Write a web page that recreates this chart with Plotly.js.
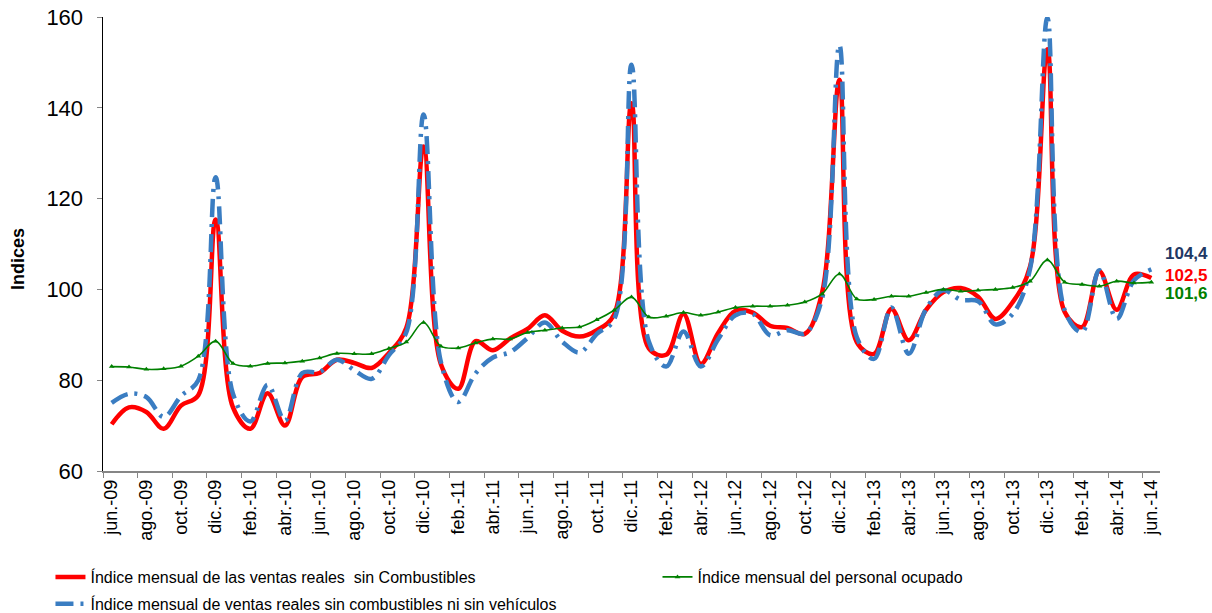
<!DOCTYPE html>
<html>
<head>
<meta charset="utf-8">
<script src="https://cdn.plot.ly/plotly-3.0.1.min.js"></script>
<style>html,body{margin:0;padding:0;background:#fff}#chart{width:1212px;height:613px}</style>
</head>
<body>
<div id="chart"></div>
<script>
const months = ["jun.-09","jul.-09","ago.-09","sep.-09","oct.-09","nov.-09","dic.-09","ene.-10","feb.-10","mar.-10","abr.-10","may.-10",
"jun.-10","jul.-10","ago.-10","sep.-10","oct.-10","nov.-10","dic.-10","ene.-11","feb.-11","mar.-11","abr.-11","may.-11",
"jun.-11","jul.-11","ago.-11","sep.-11","oct.-11","nov.-11","dic.-11","ene.-12","feb.-12","mar.-12","abr.-12","may.-12",
"jun.-12","jul.-12","ago.-12","sep.-12","oct.-12","nov.-12","dic.-12","ene.-13","feb.-13","mar.-13","abr.-13","may.-13",
"jun.-13","jul.-13","ago.-13","sep.-13","oct.-13","nov.-13","dic.-13","ene.-14","feb.-14","mar.-14","abr.-14","may.-14","jun.-14"];

const ventasSinCombustibles = [70.3,74.0,73.0,69.3,74.4,76.7,115.4,74.0,69.3,77.1,70.0,80.7,
81.6,84.5,83.8,82.7,86.0,91.5,131.5,83.5,78.1,88.6,86.6,89.2,
91.3,94.3,90.9,89.6,91.0,94.5,141.0,87.0,85.6,94.6,83.6,90.4,
95.3,94.9,92.0,91.5,90.2,99.3,146.2,88.4,85.8,95.7,88.8,95.5,
99.4,100.3,98.4,93.5,97.2,105.0,152.9,95.0,91.7,104.0,95.5,103.3,102.5];

const ventasSinCombNiVehiculos = [75.0,77.0,76.3,71.9,76.5,80.0,124.7,77.0,70.9,79.0,71.1,81.6,
81.8,84.5,82.2,80.3,85.5,90.5,138.5,84.0,75.2,81.5,85.0,86.2,
89.3,92.7,88.5,86.1,90.2,93.4,149.5,88.5,83.0,90.7,83.0,89.0,
94.3,94.6,89.9,91.0,90.3,98.0,153.8,89.5,84.7,96.0,85.8,95.7,
99.8,97.7,97.4,92.3,94.6,104.5,159.8,95.4,90.6,104.2,93.5,102.0,104.4];

const personalOcupado = [83.0,82.9,82.4,82.5,83.1,85.3,88.6,83.7,83.1,83.7,83.8,84.2,
84.9,85.9,85.8,85.8,87.0,88.4,92.7,87.5,87.1,88.2,89.1,89.1,
90.5,91.0,91.5,91.7,93.3,95.4,98.3,93.9,94.1,94.9,94.3,95.0,
96.0,96.3,96.3,96.5,97.2,99.0,103.4,97.9,97.8,98.5,98.5,99.3,
100.0,99.6,99.8,100.0,100.4,101.8,106.5,101.6,101.1,100.7,101.8,101.4,101.6];

const names = ["Índice mensual de las ventas reales  sin Combustibles",
"Índice mensual de ventas reales sin combustibles ni sin vehículos",
"Índice mensual del personal ocupado"];

const RED = "#FF0000", BLUE = "#3A7DC2", GREEN = "#008000", NAVY = "#1F3864";
const FONT = "Arial, 'Liberation Sans', sans-serif";

const traces = [
  {x: months, y: ventasSinCombustibles, name: names[0], type: "scatter", mode: "lines",
   line: {color: RED, width: 4.5, shape: "spline", smoothing: 1},
   legend: "legend", legendgroup: "a"},
  {x: months, y: ventasSinCombNiVehiculos, name: names[1], type: "scatter", mode: "lines",
   line: {color: BLUE, width: 4.5, shape: "spline", smoothing: 1, dash: "18px,7px,3px,7px"},
   legend: "legend", legendgroup: "b"},
  {x: months, y: personalOcupado, name: names[2], type: "scatter", mode: "lines+markers",
   line: {color: GREEN, width: 1.6, shape: "spline", smoothing: 1},
   marker: {symbol: "triangle-up", size: 5, color: GREEN},
   legend: "legend2", legendgroup: "c"}
];

const last = months.length - 1;
const fmt = v => v.toFixed(1).replace(".", ",");
const endLabels = [
  {series: ventasSinCombNiVehiculos, color: NAVY, shift: 16},
  {series: ventasSinCombustibles, color: RED, shift: 3},
  {series: personalOcupado, color: GREEN, shift: -11}
];
const annotations = endLabels.map(e => ({
  x: months[last], y: e.series[last], xref: "x", yref: "y",
  text: "<b>" + fmt(e.series[last]) + "</b>", showarrow: false,
  xanchor: "left", yanchor: "middle", xshift: 12, yshift: e.shift,
  font: {family: FONT, size: 17, color: e.color}
}));
annotations.push({
  xref: "paper", yref: "paper", x: -0.0804, y: 0.467, xanchor: "center", yanchor: "middle",
  text: "<b>Indices</b>", textangle: -90, showarrow: false,
  font: {family: FONT, size: 18, color: "#000"}
});

const legendFont = {family: FONT, size: 16, color: "#000"};
const layout = {
  width: 1212, height: 613,
  margin: {l: 103, r: 52, t: 17, b: 142, autoexpand: false},
  paper_bgcolor: "#fff", plot_bgcolor: "#fff",
  showlegend: true,
  xaxis: {
    type: "category", range: [-0.5, months.length - 0.5], autorange: false,
    tickson: "boundaries", tickmode: "linear", tick0: 0, dtick: 2,
    tickangle: -90, ticks: "outside", ticklen: 5, tickcolor: "#868686",
    showline: true, linecolor: "#868686", linewidth: 1.5, showgrid: false, zeroline: false,
    tickfont: {family: FONT, size: 18, color: "#000"}, automargin: false
  },
  yaxis: {
    range: [60, 160], autorange: false, tickmode: "linear", tick0: 60, dtick: 20,
    ticks: "outside", ticklen: 5, tickcolor: "#868686", ticklabelstandoff: 9,
    showline: true, linecolor: "#000", linewidth: 1.5, showgrid: false, zeroline: false,
    tickfont: {family: FONT, size: 22, color: "#000"}, automargin: false
  },
  legend: {
    orientation: "v", x: -0.0497, xanchor: "left", y: -0.196, yanchor: "top",
    traceorder: "grouped", tracegroupgap: 3,
    font: legendFont, bgcolor: "rgba(0,0,0,0)"
  },
  legend2: {
    orientation: "v", x: 0.5246, xanchor: "left", y: -0.196, yanchor: "top",
    font: legendFont, bgcolor: "rgba(0,0,0,0)"
  },
  annotations: annotations
};

Plotly.newPlot("chart", traces, layout, {displayModeBar: false, staticPlot: true});
</script>
</body>
</html>
